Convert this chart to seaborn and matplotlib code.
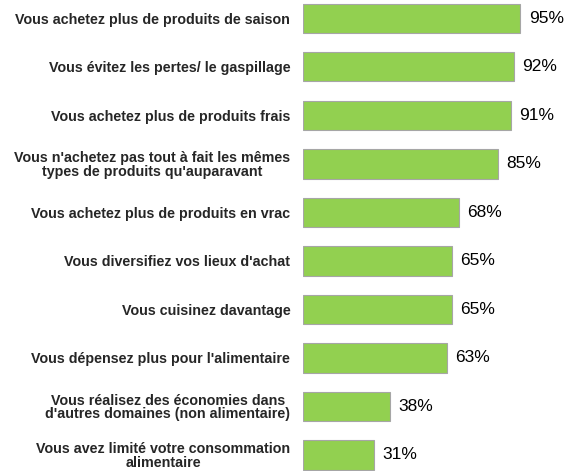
import matplotlib
matplotlib.use("Agg")
import matplotlib.pyplot as plt
import pandas as pd
import seaborn as sns

labels = [
    "Vous achetez plus de produits de saison",
    "Vous évitez les pertes/ le gaspillage",
    "Vous achetez plus de produits frais",
    "Vous n'achetez pas tout à fait les mêmes\ntypes de produits qu'auparavant",
    "Vous achetez plus de produits en vrac",
    "Vous diversifiez vos lieux d'achat",
    "Vous cuisinez davantage",
    "Vous dépensez plus pour l'alimentaire",
    "Vous réalisez des économies dans\nd'autres domaines (non alimentaire)",
    "Vous avez limité votre consommation\nalimentaire",
]
values = [95, 92, 91, 85, 68, 65, 65, 63, 38, 31]

df = pd.DataFrame({"label": labels, "value": values})

sns.set_style("white")
plt.rcParams["font.family"] = ["Liberation Sans", "DejaVu Sans"]

fig = plt.figure(figsize=(5.64, 4.71), dpi=100)
ax = fig.add_axes([0.537, 0.0, 0.406, 1.0])

sns.barplot(
    data=df, x="value", y="label", orient="h", ax=ax,
    color="#92D050", saturation=1, width=0.6,
    edgecolor="#A6A6A6", linewidth=0.8,
)

for i, v in enumerate(values):
    ax.annotate(f"{v}%", xy=(v, i), xytext=(6, 0), textcoords="offset points",
                ha="left", va="center", fontsize=12.5, color="black")

ax.set_xlim(0, 100)
ax.set_ylim(9.33, -0.38)
ax.set_xlabel("")
ax.set_ylabel("")
ax.set_xticks([])
ax.tick_params(axis="y", length=0, pad=9)
for t in ax.get_yticklabels():
    t.set_fontsize(10.3)
    t.set_fontweight("bold")
    t.set_multialignment("center")
    t.set_linespacing(0.92)
for s in ax.spines.values():
    s.set_visible(False)

fig.savefig("out.png", dpi=100)
